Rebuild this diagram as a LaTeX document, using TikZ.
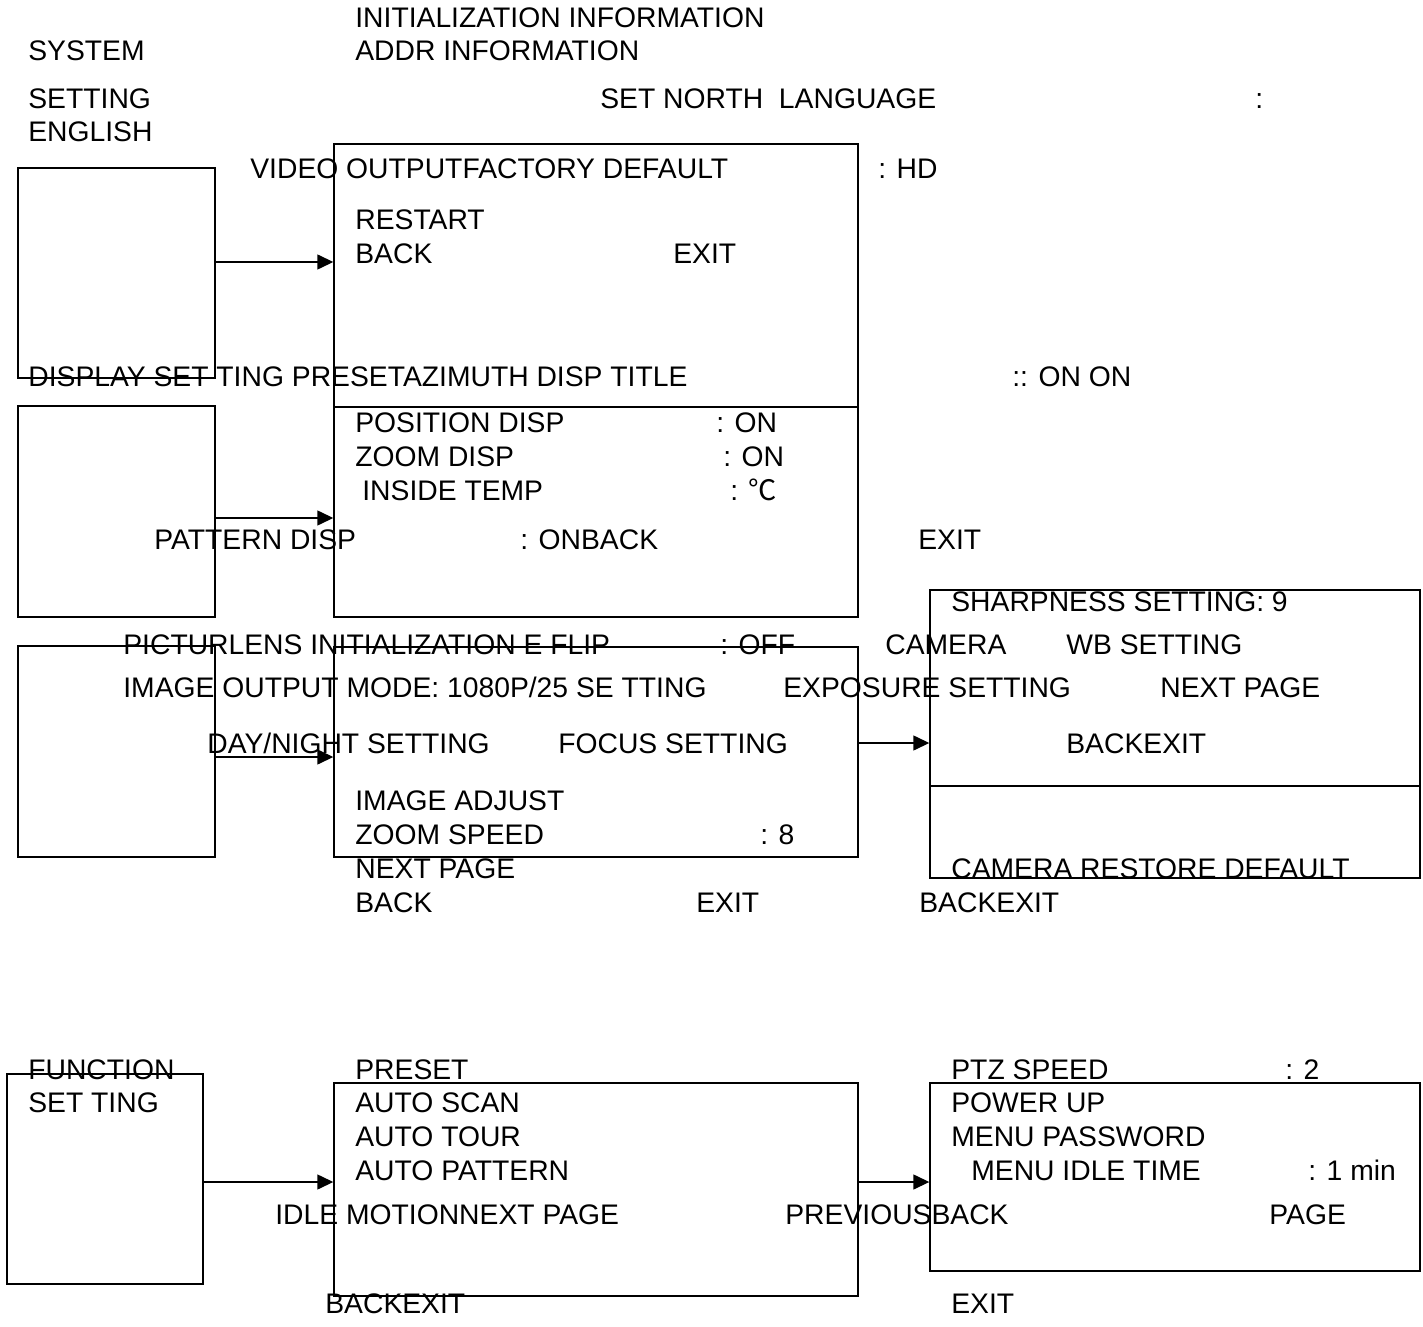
\documentclass[tikz,border=0pt]{standalone}
\usepackage{fontspec}
\setmainfont{Liberation Sans}
\newfontfamily\cjk{Noto Sans CJK SC}
\usetikzlibrary{arrows.meta,fit}
\tikzset{panel/.style={draw, line width=0.8pt, inner sep=0pt}}
\tikzset{lbl/.style={anchor=west, inner sep=0pt, text height=0.4cm, text depth=0pt, font=\fontsize{16.1}{19}\selectfont}}
\tikzset{arr/.style={-{Triangle[length=0.32cm,width=0.3cm]}, line width=0.8pt}}

\begin{document}
\begin{tikzpicture}[x=0.02cm,y=-0.02cm]
\useasboundingbox (0,0) rectangle (1423,1327);

% boxes
\node[panel, fit={(18,168) (215,378)}] (sysL) {};
\node[panel, fit={(334,144) (858,407)}] (sysM) {};
\node[panel, fit={(18,406) (215,617)}] (dispL) {};
\node[panel, fit={(334,407) (858,617)}] (dispM) {};
\node[panel, fit={(18,646) (215,857)}] (camL) {};
\node[panel, fit={(334,647) (858,857)}] (camM) {};
\node[panel, fit={(930,590) (1420,786)}] (camR) {};
\node[panel, fit={(930,786) (1420,878)}] (camRb) {};
\node[panel, fit={(7,1074) (203,1284)}] (funL) {};
\node[panel, fit={(334,1083) (858,1296)}] (funM) {};
\node[panel, fit={(930,1083) (1420,1271)}] (funR) {};

% arrows
\draw[arr] (sysL.east |- 0,262) -- (sysM.west |- 0,262);
\draw[arr] (dispL.east |- 0,518) -- (dispM.west |- 0,518);
\draw[arr] (camL.east |- 0,757) -- (camM.west |- 0,757);
\draw[arr] (camM.east |- 0,743) -- (camR.west |- 0,743);
\draw[arr] (funL.east |- 0,1182) -- (funM.west |- 0,1182);
\draw[arr] (funM.east |- 0,1182) -- (funR.west |- 0,1182);

% system setting
\node[lbl] (t1) at (355,18) {INITIALIZATION INFORMATION};
\node[lbl] (t2) at (355,51) {ADDR INFORMATION};
\node[lbl] (t3) at (28,51) {SYSTEM};
\node[lbl] (t4) at (28,99) {SETTING};
\node[lbl] (t5) at (28,132) {ENGLISH};
\node[lbl] (t6) at (600,99) {SET NORTH\ \ LANGUAGE};
\node[lbl] (t7) at (1255,99) {:};
\node[lbl] (t8) at (250,169) {VIDEO OUTPUTFACTORY DEFAULT};
\node[lbl] (t9) at (878,169) {: HD};
\node[lbl] (t10) at (355,220) {RESTART};
\node[lbl] (t11) at (355,254) {BACK};
\node[lbl] (t12) at (673,254) {EXIT};

% display setting
\node[lbl] (d1) at (28,377) {DISPLAY SET TING PRESETAZIMUTH DISP TITLE};
\node[lbl] (d2) at (1012,377) {:: ON ON};
\node[lbl] (d3) at (355,423) {POSITION DISP};
\node[lbl] (d4) at (716,423) {: ON};
\node[lbl] (d5) at (355,457) {ZOOM DISP};
\node[lbl] (d6) at (723,457) {: ON};
\node[lbl] (d7) at (362,491) {INSIDE TEMP};
\node[lbl] (d8) at (730,491) {: {\cjk ℃}};
\node[lbl] (d9) at (154,540) {PATTERN DISP};
\node[lbl] (d10) at (520,540) {: ONBACK};
\node[lbl] (d11) at (918,540) {EXIT};

% camera setting
\node[lbl] (c1) at (951,602) {SHARPNESS SETTING: 9};
\node[lbl] (c2) at (123,645) {PICTURLENS INITIALIZATION E FLIP};
\node[lbl] (c3) at (720,645) {: OFF};
\node[lbl] (c4) at (885,645) {CAMERA};
\node[lbl] (c5) at (1066,645) {WB SETTING};
\node[lbl] (c6) at (123,687) {IMAGE OUTPUT MODE: 1080P/25 SE TTING};
\node[lbl] (c7) at (783,687) {EXPOSURE SETTING};
\node[lbl] (c8) at (1160,687) {NEXT PAGE};
\node[lbl] (c9) at (207,743) {DAY/NIGHT SETTING};
\node[lbl] (c10) at (558,743) {FOCUS SETTING};
\node[lbl] (c11) at (1066,743) {BACKEXIT};
\node[lbl] (c12) at (355,800) {IMAGE ADJUST};
\node[lbl] (c13) at (355,834) {ZOOM SPEED};
\node[lbl] (c14) at (760,834) {: 8};
\node[lbl] (c15) at (355,868) {NEXT PAGE};
\node[lbl] (c16) at (951,868) {CAMERA RESTORE DEFAULT};
\node[lbl] (c17) at (355,902) {BACK};
\node[lbl] (c18) at (696,902) {EXIT};
\node[lbl] (c19) at (919,902) {BACKEXIT};

% function setting
\node[lbl] (f1) at (28,1069) {FUNCTION};
\node[lbl] (f2) at (355,1069) {PRESET};
\node[lbl] (f3) at (951,1069) {PTZ SPEED};
\node[lbl] (f4) at (1285,1069) {: 2};
\node[lbl] (f5) at (28,1102) {SET TING};
\node[lbl] (f6) at (355,1102) {AUTO SCAN};
\node[lbl] (f7) at (951,1102) {POWER UP};
\node[lbl] (f8) at (355,1136) {AUTO TOUR};
\node[lbl] (f9) at (951,1136) {MENU PASSWORD};
\node[lbl] (f10) at (355,1170) {AUTO PATTERN};
\node[lbl] (f11) at (971,1170) {MENU IDLE TIME};
\node[lbl] (f12) at (1308,1170) {: 1 min};
\node[lbl] (f13) at (275,1214) {IDLE MOTIONNEXT PAGE};
\node[lbl] (f14) at (785,1214) {PREVIOUSBACK};
\node[lbl] (f15) at (1269,1214) {PAGE};
\node[lbl] (f16) at (325,1303) {BACKEXIT};
\node[lbl] (f17) at (951,1303) {EXIT};

\end{tikzpicture}
\end{document}
